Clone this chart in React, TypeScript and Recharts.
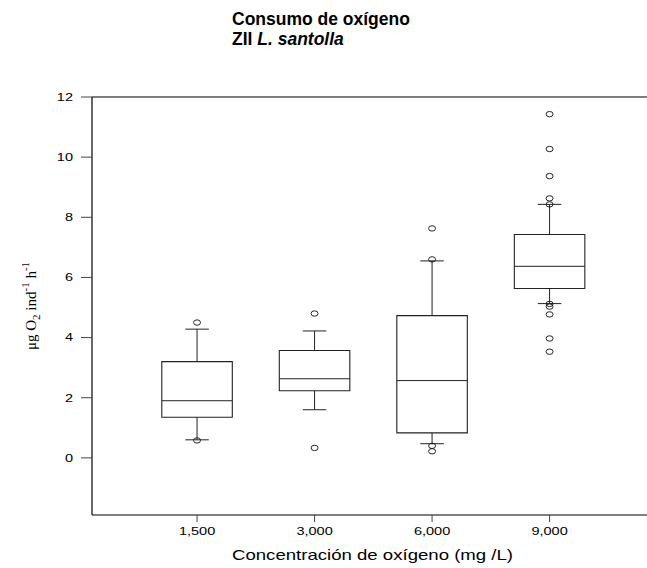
import React from 'react';
import { ComposedChart, XAxis, YAxis, Scatter, ReferenceArea, ReferenceLine, Label } from 'recharts';

const categories = ['1,500', '3,000', '6,000', '9,000'];
const whiskerLow = [0.6, 1.6, 0.47, 5.13];
const q1 = [1.35, 2.23, 0.83, 5.63];
const median = [1.9, 2.63, 2.57, 6.37];
const q3 = [3.2, 3.57, 4.73, 7.43];
const whiskerHigh = [4.28, 4.22, 6.55, 8.43];
const outliers: number[][] = [
  [4.5, 0.58],
  [4.8, 0.33],
  [7.63, 6.6, 0.4, 0.22],
  [11.43, 10.27, 9.37, 8.63, 8.43, 5.12, 5.03, 4.77, 3.97, 3.53],
];
const yTicks = [0, 2, 4, 6, 8, 10, 12];

const BOX_HALF = 0.3;
const CAP_HALF = 0.1;
const LINE = '#222';
const SANS = "'Liberation Sans', Arial, sans-serif";

const outlierData = outliers.flatMap((vals, i) => vals.map((v) => ({ x: i, y: v })));

const Ring = (props: any) => {
  const { cx, cy } = props;
  if (cx == null || cy == null) return null;
  return <ellipse cx={cx} cy={cy} rx={3.5} ry={2.7} fill="none" stroke="#111" strokeWidth={0.9} />;
};

const XTick = (props: any) => {
  const { x, y, payload } = props;
  return (
    <g transform={`translate(${x},${y}) scale(1.32,1)`}>
      <text x={0} y={0} dy="0.71em" textAnchor="middle" fontSize={11} fontFamily={SANS} fill="#000">
        {categories[payload.value] ?? ''}
      </text>
    </g>
  );
};

const YTick = (props: any) => {
  const { x, y, payload } = props;
  return (
    <g transform={`translate(${x},${y}) scale(1.32,1)`}>
      <text x={0} y={0} dy="0.35em" textAnchor="end" fontSize={11} fontFamily={SANS} fill="#000">
        {payload.value}
      </text>
    </g>
  );
};

const YLabel = (props: any) => {
  const vb = props.viewBox || { x: 0, y: 97, width: 92, height: 418 };
  const cx = 36;
  const cy = vb.y + vb.height / 2;
  return (
    <text
      x={cx}
      y={cy}
      transform={`rotate(-90, ${cx}, ${cy})`}
      textAnchor="middle"
      fontFamily="'Liberation Serif', 'Times New Roman', serif"
      fontSize={15}
      fill="#000"
    >
      <tspan>μg O</tspan>
      <tspan fontSize={11} dy={4}>2</tspan>
      <tspan dy={-4}> ind</tspan>
      <tspan fontSize={11} dy={-7}>-1</tspan>
      <tspan dy={7}> h</tspan>
      <tspan fontSize={11} dy={-7}>-1</tspan>
    </text>
  );
};

const XLabel = () => (
  <text
    x={232}
    y={560}
    textAnchor="start"
    textLength={281}
    lengthAdjust="spacingAndGlyphs"
    fontFamily={SANS}
    fontSize={15}
    fill="#000"
  >
    Concentración de oxígeno (mg /L)
  </text>
);

export default function App() {
  return (
    <div
      style={{
        position: 'absolute',
        left: 0,
        top: 0,
        width: 647,
        height: 568,
        overflow: 'hidden',
        background: '#fff',
      }}
    >
      <div
        style={{
          position: 'absolute',
          left: 232,
          top: 9,
          fontFamily: SANS,
          fontWeight: 'bold',
          fontSize: 17.5,
          lineHeight: '20px',
          color: '#000',
          zIndex: 2,
        }}
      >
        <div>Consumo de oxígeno</div>
        <div>
          ZII <i>L. santolla</i>
        </div>
      </div>
      <ComposedChart width={700} height={568} margin={{ top: 97, right: 0, bottom: 0, left: 0 }}>
        <XAxis
          dataKey="x"
          type="number"
          domain={[-0.894, 4.28]}
          ticks={[0, 1, 2, 3]}
          allowDataOverflow
          height={53}
          tickSize={7}
          tickMargin={5}
          tick={<XTick />}
          axisLine={{ stroke: '#000', strokeWidth: 1.2 }}
          tickLine={{ stroke: '#444' }}
        >
          <Label content={<XLabel />} />
        </XAxis>
        <YAxis
          dataKey="y"
          type="number"
          domain={[-1.9, 12]}
          ticks={yTicks}
          allowDataOverflow
          width={92}
          tickSize={11}
          tickMargin={8}
          tick={<YTick />}
          axisLine={{ stroke: '#000', strokeWidth: 1.2 }}
          tickLine={{ stroke: '#444' }}
        >
          <Label content={<YLabel />} />
        </YAxis>
        <ReferenceLine y={12} stroke="#000" strokeWidth={1.2} />
        {categories.map((c, i) => (
          <ReferenceLine
            key={`wl-${c}`}
            segment={[{ x: i, y: whiskerLow[i] }, { x: i, y: q1[i] }]}
            stroke={LINE}
          />
        ))}
        {categories.map((c, i) => (
          <ReferenceLine
            key={`wh-${c}`}
            segment={[{ x: i, y: q3[i] }, { x: i, y: whiskerHigh[i] }]}
            stroke={LINE}
          />
        ))}
        {categories.map((c, i) => (
          <ReferenceLine
            key={`cl-${c}`}
            segment={[{ x: i - CAP_HALF, y: whiskerLow[i] }, { x: i + CAP_HALF, y: whiskerLow[i] }]}
            stroke={LINE}
          />
        ))}
        {categories.map((c, i) => (
          <ReferenceLine
            key={`ch-${c}`}
            segment={[{ x: i - CAP_HALF, y: whiskerHigh[i] }, { x: i + CAP_HALF, y: whiskerHigh[i] }]}
            stroke={LINE}
          />
        ))}
        {categories.map((c, i) => (
          <ReferenceArea
            key={`box-${c}`}
            x1={i - BOX_HALF}
            x2={i + BOX_HALF}
            y1={q1[i]}
            y2={q3[i]}
            fill="none"
            fillOpacity={0}
            stroke={LINE}
            strokeWidth={1.1}
          />
        ))}
        {categories.map((c, i) => (
          <ReferenceLine
            key={`med-${c}`}
            segment={[{ x: i - BOX_HALF, y: median[i] }, { x: i + BOX_HALF, y: median[i] }]}
            stroke={LINE}
          />
        ))}
        <Scatter data={outlierData} dataKey="y" shape={<Ring />} isAnimationActive={false} />
      </ComposedChart>
    </div>
  );
}
